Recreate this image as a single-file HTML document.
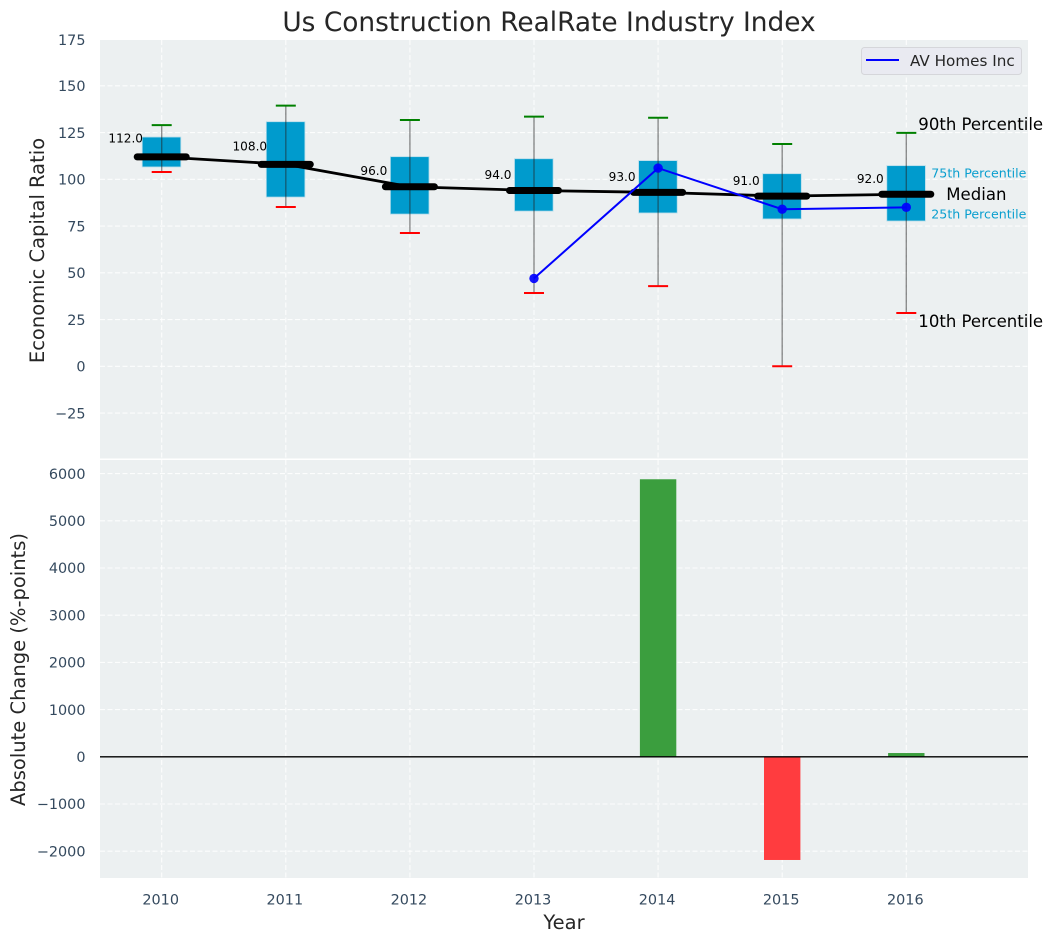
<!DOCTYPE html>
<html lang="en">
<head>
<meta charset="utf-8">
<title>Us Construction RealRate Industry Index</title>
<style>
html,body{margin:0;padding:0;background:#fff;width:1053px;height:942px;overflow:hidden}
svg{display:block}
text{font-family:"DejaVu Sans","Liberation Sans",sans-serif}
</style>
</head>
<body>
<svg id="chart" xmlns="http://www.w3.org/2000/svg" width="1053" height="942" viewBox="0 0 1053 942"></svg>
<script>
const years = [2010, 2011, 2012, 2013, 2014, 2015, 2016];
const p90 = [129.0, 139.4, 131.7, 133.5, 132.9, 118.9, 124.8];
const q3 = [122.6, 130.8, 112.1, 111, 110, 103, 107.3];
const medians = [112, 108, 96, 94, 93, 91, 92];
const q1 = [106.6, 90.5, 81.4, 83, 82, 78.8, 77.7];
const p10 = [103.9, 85.2, 71.3, 39.2, 42.9, 0, 28.5];
const companyYears = [2013, 2014, 2015, 2016];
const companyValues = [47, 106, 84, 85];
const changeValues = [0, 0, 0, 0, 5880, -2186, 80];
const topTicks = [175, 150, 125, 100, 75, 50, 25, 0, -25];
const bottomTicks = [6000, 5000, 4000, 3000, 2000, 1000, 0, -1000, -2000];

const NS = 'http://www.w3.org/2000/svg';
const svg = document.getElementById('chart');
const PLOT_L = 100, PLOT_R = 1028;
const x = v => 161.7 + (v - 2010) * 124.1;
const yTop = v => 366.3 - v * 1.87;
const yBot = v => 756.8 - v * 0.0472;
const tickColor = '#34495e';
const tickSize = 14.4;

function make(tag, attrs, txt) {
  const el = document.createElementNS(NS, tag);
  for (const k in attrs) el.setAttribute(k, attrs[k]);
  if (txt !== undefined) el.textContent = txt;
  svg.appendChild(el);
  return el;
}
function fmtTick(v) { return v < 0 ? '\u2212' + Math.abs(v) : String(v); }
function gridH(y, name) {
  const el = make('line', {x1: PLOT_L, x2: PLOT_R, y1: y, y2: y, stroke: '#fff', 'stroke-width': 1.1, 'stroke-dasharray': '5,2.5', 'stroke-opacity': 0.85});
  
  
}
function gridV(px, y1, y2, name) {
  const el = make('line', {x1: px, x2: px, y1: y1, y2: y2, stroke: '#fff', 'stroke-width': 1.1, 'stroke-dasharray': '5,2.5', 'stroke-opacity': 0.85});
  
  
}

/* panels */
const topPanel = make('rect', {x: PLOT_L, y: 40, width: PLOT_R - PLOT_L, height: 418.5, fill: '#ecf0f1'});


const botPanel = make('rect', {x: PLOT_L, y: 460, width: PLOT_R - PLOT_L, height: 418, fill: '#ecf0f1'});



/* grid and ticks: top */
topTicks.forEach(t => {
  if (t !== 175) gridH(yTop(t), 'top-grid-line-' + t);
  const lab = make('text', {x: 85.5, y: (t === 175 ? 40 : yTop(t)) + 5.2, 'text-anchor': 'end', 'font-size': tickSize, fill: tickColor}, fmtTick(t));
  
  
});
/* grid and ticks: bottom */
bottomTicks.forEach(t => {
  gridH(yBot(t), 'bottom-grid-line-' + t);
  const lab = make('text', {x: 85.5, y: yBot(t) + 5.2, 'text-anchor': 'end', 'font-size': tickSize, fill: tickColor}, fmtTick(t));
  
  
});
years.forEach(yr => {
  gridV(x(yr), 40, 458.5, 'top-grid-vertical-' + yr);
  gridV(x(yr), 460, 878, 'bottom-grid-vertical-' + yr);
  const lab = make('text', {x: x(yr) - 1, y: 904.5, 'text-anchor': 'middle', 'font-size': tickSize, fill: tickColor}, String(yr));
  
  
});

/* boxes */
years.forEach((yr, i) => {
  const box = make('rect', {x: x(yr) - 19.5, y: yTop(q3[i]), width: 38.6, height: yTop(q1[i]) - yTop(q3[i]), fill: '#009bcd', stroke: '#b5dcea', 'stroke-width': 0.8});
  
  
});
/* whiskers and caps */
years.forEach((yr, i) => {
  const w = make('line', {x1: x(yr), x2: x(yr), y1: yTop(p90[i]), y2: yTop(p10[i]), stroke: '#222', 'stroke-opacity': 0.5, 'stroke-width': 1.4});
  
  
  const capHi = make('line', {x1: x(yr) - 10, x2: x(yr) + 10, y1: yTop(p90[i]), y2: yTop(p90[i]), stroke: '#008000', 'stroke-width': 2});
  
  
  const capLo = make('line', {x1: x(yr) - 10, x2: x(yr) + 10, y1: yTop(p10[i]), y2: yTop(p10[i]), stroke: '#ff0000', 'stroke-width': 2});
  
  
});
/* median connecting line */
const medLine = make('polyline', {points: years.map((yr, i) => x(yr) + ',' + yTop(medians[i])).join(' '), fill: 'none', stroke: '#000', 'stroke-width': 2.8, 'stroke-linejoin': 'round'});


/* median bars and labels */
years.forEach((yr, i) => {
  const m = make('line', {x1: x(yr) - 24.5, x2: x(yr) + 24.5, y1: yTop(medians[i]), y2: yTop(medians[i]), stroke: '#000', 'stroke-width': 7, 'stroke-linecap': 'round'});
  
  
  const t = make('text', {x: x(yr) - 36, y: yTop(medians[i] * 1.09) + 4.4, 'text-anchor': 'middle', 'font-size': 12.1, fill: '#000'}, medians[i].toFixed(1));
  
  
});
/* company series */
const avLine = make('polyline', {points: companyYears.map((yr, i) => x(yr) + ',' + yTop(companyValues[i])).join(' '), fill: 'none', stroke: '#0000ff', 'stroke-width': 2});


companyYears.forEach((yr, i) => {
  const c = make('circle', {cx: x(yr), cy: yTop(companyValues[i]), r: 4.7, fill: '#0000ff', 'fill-opacity': 0.92});
  
  
});

/* percentile annotations, anchored to last box */
const last = years.length - 1, lastX = x(years[last]);
function note(txt, px, py, size, color, name) {
  const t = make('text', {x: px, y: py + size * 0.36, 'font-size': size, fill: color}, txt);
  
  
}
note('90th Percentile', lastX + 12, yTop(p90[last]) - 9, 16.55, '#000', 'annotation-90th-percentile');
note('10th Percentile', lastX + 12, yTop(p10[last]) + 8, 16.55, '#000', 'annotation-10th-percentile');
note('Median', lastX + 40, yTop(medians[last]), 16.55, '#000', 'annotation-median');
note('75th Percentile', lastX + 25, yTop(q3[last]) + 7.5, 12.6, '#0a9fcf', 'annotation-75th-percentile');
note('25th Percentile', lastX + 25, yTop(q1[last]) - 7, 12.6, '#0a9fcf', 'annotation-25th-percentile');

/* legend */
const legendBox = make('rect', {x: 861.5, y: 47.5, width: 160, height: 27, rx: 3, fill: '#e9eaf1', stroke: '#d5d6da', 'stroke-width': 1});


const legendLine = make('line', {x1: 866, x2: 899, y1: 60, y2: 60, stroke: '#0000ff', 'stroke-width': 2});


const legendText = make('text', {x: 910, y: 66, 'font-size': 15.2, fill: '#262626'}, 'AV Homes Inc');



/* bars */
years.forEach((yr, i) => {
  const v = changeValues[i];
  if (v === 0) return;
  const top = v > 0 ? yBot(v) : yBot(0);
  const h = Math.abs(yBot(v) - yBot(0));
  const bar = make('rect', {x: x(yr) - 18.2, y: top, width: 36.4, height: h, fill: v > 0 ? '#3b9e3e' : '#ff3c3f'});
  
  
});
const zero = make('line', {x1: PLOT_L, x2: PLOT_R, y1: yBot(0), y2: yBot(0), stroke: '#000', 'stroke-width': 1.3});



/* titles */
const title = make('text', {x: 549, y: 31, 'text-anchor': 'middle', 'font-size': 26.4, fill: '#262626'}, 'Us Construction RealRate Industry Index');


const yTitleTop = make('text', {x: 0, y: 0, 'text-anchor': 'middle', 'font-size': 19.5, fill: '#262626', transform: 'translate(44 250.5) rotate(-90)'}, 'Economic Capital Ratio');


const yTitleBot = make('text', {x: 0, y: 0, 'text-anchor': 'middle', 'font-size': 19.5, fill: '#262626', transform: 'translate(25 669.5) rotate(-90)'}, 'Absolute Change (%-points)');


const xTitle = make('text', {x: 564, y: 929, 'text-anchor': 'middle', 'font-size': 19.5, fill: '#262626'}, 'Year');


</script>
</body>
</html>
